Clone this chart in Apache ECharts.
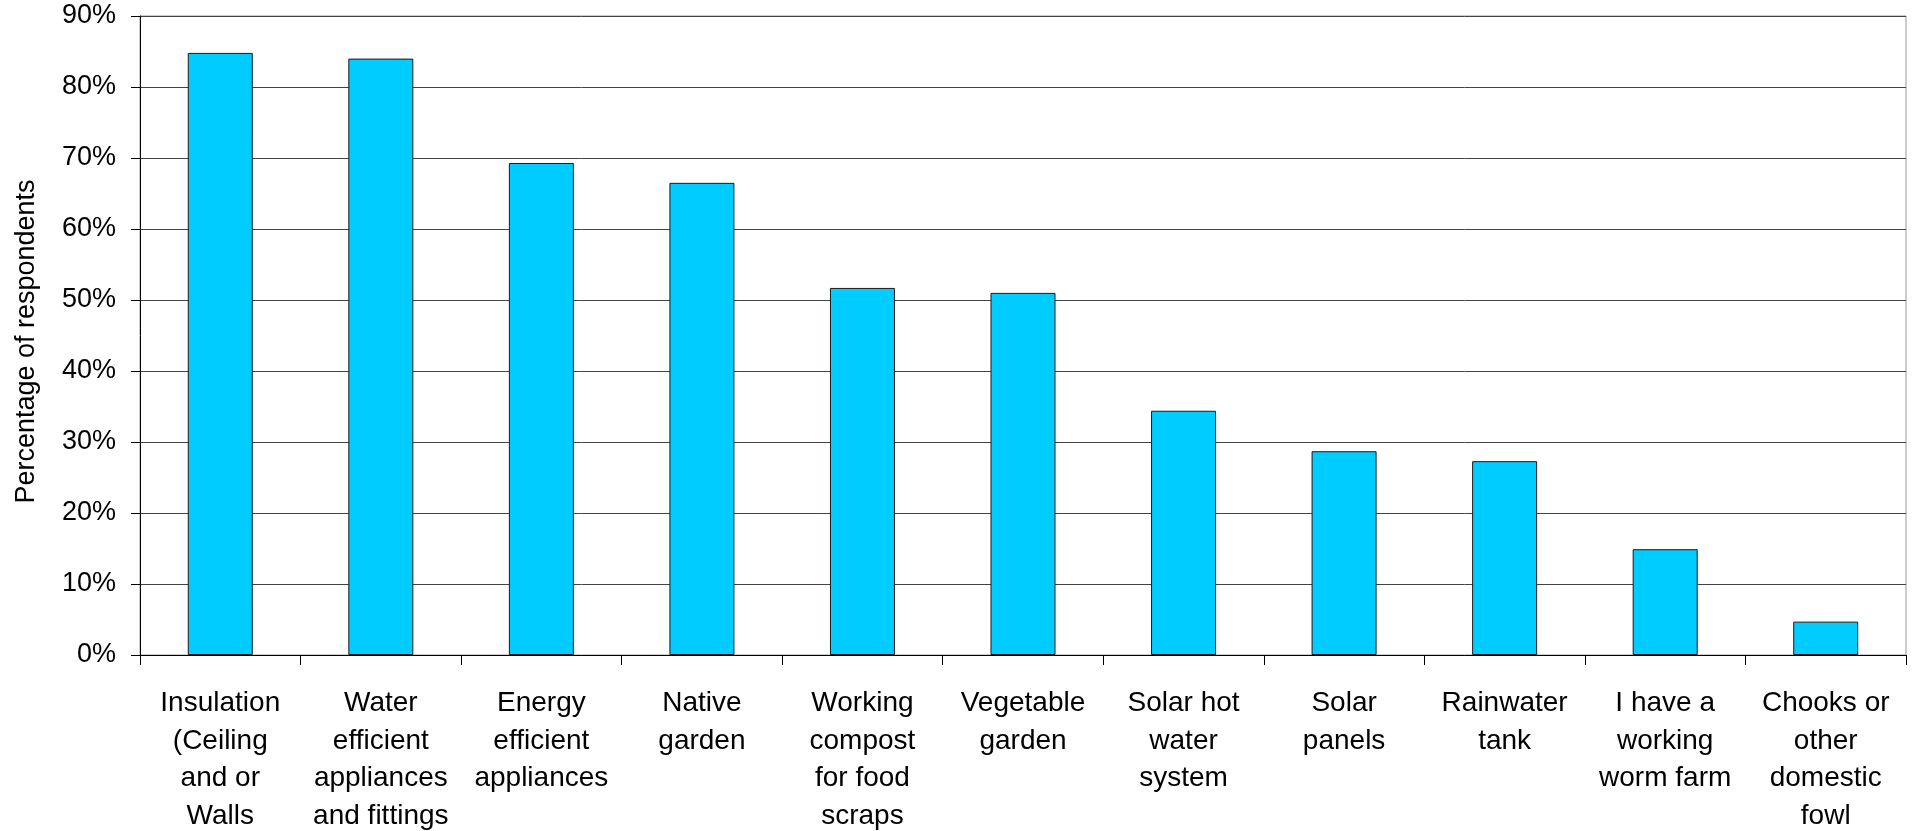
<!DOCTYPE html>
<html>
<head>
<meta charset="utf-8">
<script src="https://cdn.jsdelivr.net/npm/echarts@6/dist/echarts.min.js"></script>
<style>
html,body{margin:0;padding:0;background:#fff;}
#chart{width:1921px;height:831px;}
</style>
</head>
<body>
<div id="chart"></div>
<script>
const categories = [
  'Insulation\n(Ceiling\nand or\nWalls',
  'Water\nefficient\nappliances\nand fittings',
  'Energy\nefficient\nappliances',
  'Native\ngarden',
  'Working\ncompost\nfor food\nscraps',
  'Vegetable\ngarden',
  'Solar hot\nwater\nsystem',
  'Solar\npanels',
  'Rainwater\ntank',
  'I have a\nworking\nworm farm',
  'Chooks or\nother\ndomestic\nfowl'
];
const percentages = [84.8, 84.0, 69.3, 66.5, 51.7, 51.0, 34.4, 28.7, 27.3, 14.9, 4.7];
const yAxisTitle = 'Percentage of respondents';

const chart = echarts.init(document.getElementById('chart'), null, {renderer: 'canvas'});
chart.setOption({
  animation: false,
  backgroundColor: '#ffffff',
  grid: {
    left: 140, right: 15, top: 16, bottom: 176,
    containLabel: false,
    outerBoundsMode: 'none',
    show: true, borderColor: '#999999', borderWidth: 1, backgroundColor: 'transparent'
  },
  xAxis: {
    type: 'category',
    data: categories,
    axisLine: {lineStyle: {color: '#000', width: 1}},
    axisTick: {show: true, length: 10, lineStyle: {color: '#000'}},
    axisLabel: {
      interval: 0, margin: 30, color: '#000',
      fontFamily: '"Liberation Sans", Arial, sans-serif', fontSize: 28, lineHeight: 37.5,
      align: 'center'
    }
  },
  yAxis: {
    type: 'value',
    min: 0, max: 90, interval: 10,
    name: yAxisTitle,
    nameLocation: 'middle',
    nameGap: 100,
    nameTextStyle: {color: '#000', fontFamily: '"Liberation Sans", Arial, sans-serif', fontSize: 27, padding: [0, 12, 0, 0]},
    axisLine: {show: true, lineStyle: {color: '#000', width: 1}},
    axisTick: {show: true, length: 9, lineStyle: {color: '#000'}},
    axisLabel: {
      margin: 24, color: '#000', formatter: '{value}%',
      fontFamily: '"Liberation Sans", Arial, sans-serif', fontSize: 27, padding: [5, 0, 0, 0]
    },
    splitLine: {show: true, lineStyle: {color: '#444', width: 1}}
  },
  series: [{
    type: 'bar',
    data: percentages,
    barWidth: 65,
    itemStyle: {color: '#00CCFF', borderColor: '#1a1a1a', borderWidth: 1}
  }]
});
</script>
</body>
</html>
